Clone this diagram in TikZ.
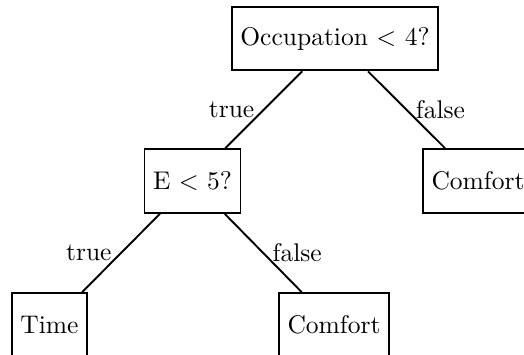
\documentclass[tikz,border=0pt]{standalone}
\begin{document}
\begin{tikzpicture}[x=0.392pt,y=-0.392pt,
  box/.style={draw, line width=0.75pt, minimum height=25pt, inner xsep=3.33pt},
  conn/.style={line width=0.75pt},
  lab/.style={midway, inner sep=3.33pt}]
\useasboundingbox (0,0) rectangle (524,354);
\node[box] (root) at (335,38.5) {Occupation $<$ 4?};
\node[box] (e) at (192.5,181) {E $<$ 5?};
\node[box] (c1) at (478,181) {Comfort};
\node[box] (t) at (49.5,325) {Time};
\node[box] (c2) at (334,325) {Comfort};
\draw[conn] (root) -- node[lab,left]{true} (e);
\draw[conn] (root) -- node[lab,right]{false} (c1);
\draw[conn] (e) -- node[lab,left]{true} (t);
\draw[conn] (e) -- node[lab,right]{false} (c2);
\end{tikzpicture}
\end{document}
